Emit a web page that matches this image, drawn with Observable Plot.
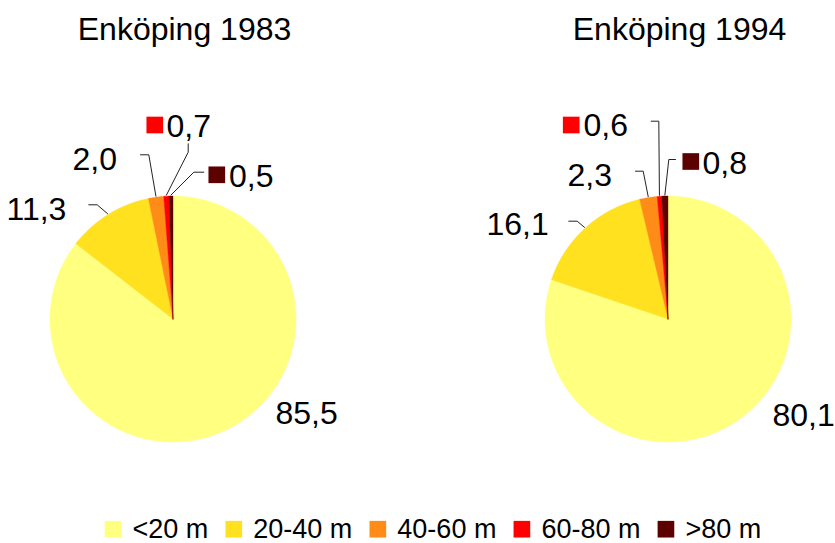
<!DOCTYPE html>
<html>
<head>
<meta charset="utf-8">
<script src="https://cdn.jsdelivr.net/npm/d3@7"></script>
<script src="https://cdn.jsdelivr.net/npm/@observablehq/plot@0.6"></script>
<style>
  html, body { margin: 0; padding: 0; background: #fff; }
</style>
</head>
<body>
<div id="chart"></div>
<script>
// ---------- data ----------
const categories = ["<20 m", "20-40 m", "40-60 m", "60-80 m", ">80 m"];
const colors = ["#FFFF80", "#FFE11F", "#FF8C17", "#FF0000", "#5C0000"];
const titles = ["Enköping 1983", "Enköping 1994"];
const values1983 = [85.5, 11.3, 2.0, 0.7, 0.5];
const values1994 = [80.1, 16.1, 2.3, 0.6, 0.8];

// ---------- layout (positions, not data) ----------
const FONT = "Liberation Sans, Arial, Helvetica, sans-serif";
const W = 835, H = 543;
const R = 123;
const pieLayout = [
  { cx: 172.5, cy: 318.5, titleX: 184, titleBase: 39,
    labels: [
      { x: 275, base: 423.5 },
      { x: 6,   base: 219.5, leader: [[88.3, 204.3], [96.7, 204.3]] },
      { x: 72,  base: 169.5, leader: [[140, 154.3], [148.3, 154.3]] },
      { x: 166, base: 136.7, key: [154.3, 124.5], leader: [[187.7, 143.3], [187.7, 151.7]] },
      { x: 228.5, base: 186.7, key: [216.3, 174.3], leader: [[203.3, 171.7], [193.3, 171.7]] }
    ] },
  { cx: 667.5, cy: 318.5, titleX: 679, titleBase: 39,
    labels: [
      { x: 772, base: 425 },
      { x: 486, base: 234.5, leader: [[568.3, 220.7], [576.7, 220.7]] },
      { x: 567, base: 185.2, leader: [[635, 170.7], [642.7, 170.7]] },
      { x: 583, base: 135.2, key: [570.7, 124.5], leader: [[650.7, 120.7], [658.3, 120.7]] },
      { x: 702, base: 173.3, key: [690.3, 161], leader: [[675, 159], [668.3, 159]] }
    ] }
];
const TITLE_FS = 32, LABEL_FS = 32, LEGEND_FS = 27;

// ---------- derived geometry ----------
const series = [values1983, values1994];
const fmt = v => d3.format(".1f")(v).replace(".", ",");
const slicePts = [], leaderPts = [], valueLabels = [], keyDots = [], titleRows = [];

series.forEach((vals, p) => {
  const L = pieLayout[p];
  const pie = d3.pie().sort(null).value(d => d)(vals);
  titleRows.push({ x: L.titleX, y: L.titleBase - 0.32 * TITLE_FS, text: titles[p] });
  pie.forEach((s, i) => {
    const id = p + "-" + i;
    const cat = categories[i];
    const pt = (a, r) => ({ x: L.cx + r * Math.sin(a), y: L.cy - r * Math.cos(a) });
    slicePts.push({ id, cat, ...pt(0, 0) });
    const n = Math.max(2, Math.ceil((s.endAngle - s.startAngle) / (Math.PI / 360)) + 1);
    for (let k = 0; k < n; k++) {
      const a = s.startAngle + (s.endAngle - s.startAngle) * k / (n - 1);
      slicePts.push({ id, cat, ...pt(a, R) });
    }
    slicePts.push({ id, cat, ...pt(0, 0) });
    const lab = L.labels[i];
    valueLabels.push({ x: lab.x, y: lab.base - 0.32 * LABEL_FS, text: fmt(s.data) });
    if (lab.key) keyDots.push({ x: lab.key[0], y: lab.key[1], cat });
    if (lab.leader) {
      const mid = (s.startAngle + s.endAngle) / 2;
      const end = pt(mid, R + 1);
      leaderPts.push({ id, x: lab.leader[0][0], y: lab.leader[0][1] });
      leaderPts.push({ id, x: lab.leader[1][0], y: lab.leader[1][1] });
      leaderPts.push({ id, x: end.x, y: end.y });
    }
  });
});

// legend positions from measured text widths
const ctx = document.createElement("canvas").getContext("2d");
ctx.font = `${LEGEND_FS}px ${FONT}`;
const legendItems = [];
let lx = 112.5;
categories.forEach((c, i) => {
  legendItems.push({ x: lx, tx: lx + 19.5, y: 528.7, ty: 537.5 - 0.32 * LEGEND_FS, cat: c });
  lx = lx + 19.5 + ctx.measureText(c).width + 25.5;
});

const chart = Plot.plot({
  width: W, height: H, margin: 0,
  x: { domain: [0, W], range: [0, W], axis: null },
  y: { domain: [0, H], range: [0, H], axis: null },
  color: { domain: categories, range: colors },
  style: { fontFamily: FONT, background: "white", color: "black", overflow: "visible" },
  marks: [
    Plot.line(slicePts, { x: "x", y: "y", z: "id", fill: "cat", stroke: "cat", strokeWidth: 0.4, curve: "linear" }),
    Plot.line(leaderPts, { x: "x", y: "y", z: "id", stroke: "#222", strokeWidth: 1, curve: "linear" }),
    Plot.text(titleRows, { x: "x", y: "y", text: "text", fontSize: TITLE_FS, textAnchor: "middle", fill: "black" }),
    Plot.text(valueLabels, { x: "x", y: "y", text: "text", fontSize: LABEL_FS, textAnchor: "start", fill: "black" }),
    Plot.dot(keyDots, { x: "x", y: "y", fill: "cat", symbol: "square", r: 9.4, stroke: "none" }),
    Plot.dot(legendItems, { x: "x", y: "y", fill: "cat", symbol: "square", r: 9.4, stroke: "none" }),
    Plot.text(legendItems, { x: "tx", y: "ty", text: "cat", fontSize: LEGEND_FS, textAnchor: "start", fill: "black" })
  ]
});
document.getElementById("chart").appendChild(chart);
</script>
</body>
</html>
